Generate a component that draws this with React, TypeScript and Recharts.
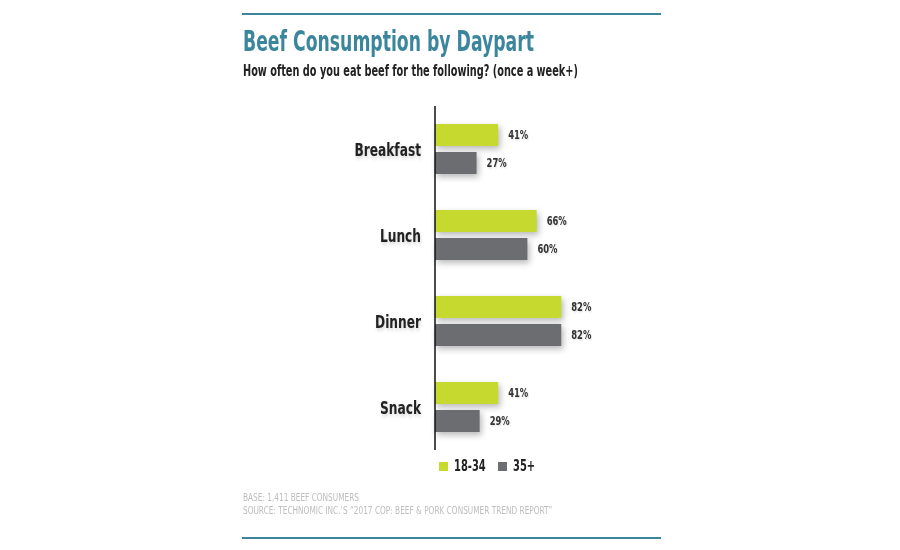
import React from 'react';
import { BarChart, Bar, XAxis, YAxis, LabelList } from 'recharts';

const dayparts = ['Breakfast', 'Lunch', 'Dinner', 'Snack'];
const young = [41, 66, 82, 41];
const older = [27, 60, 82, 29];
const seriesNames = ['18-34', '35+'];
const footnotes = [
  'BASE: 1,411 BEEF CONSUMERS',
  'SOURCE: TECHNOMIC INC.\u2019S \u201C2017 COP: BEEF & PORK CONSUMER TREND REPORT\u201D',
];

const data = dayparts.map((name, i) => ({ name, young: young[i], older: older[i] }));

const GREEN = '#c6d92e';
const GRAY = '#6c6d70';
const TEAL = '#3b869c';
const FONT = "'DejaVu Sans', sans-serif";

const ShadowBar = (props: any) => {
  const { x, y, width, height, fill } = props;
  return (
    <rect
      x={x}
      y={y}
      width={width}
      height={height}
      fill={fill}
      style={{ filter: 'drop-shadow(2px 3px 3px rgba(0,0,0,0.28))' }}
    />
  );
};

// Narrow, bold category names to the left of the axis
const CategoryTick = (props: any) => {
  const { x, y, payload } = props;
  return (
    <text
      transform={`translate(${x},${y}) scale(0.66,1)`}
      x={0}
      y={0}
      dy={6.5}
      textAnchor="end"
      fontFamily={FONT}
      fontWeight={700}
      fontSize={18.5}
      fill="#222"
      style={{ filter: 'drop-shadow(1px 2px 2px rgba(0,0,0,0.18))' }}
    >
      {payload.value}
    </text>
  );
};

const ValueLabel = (props: any) => {
  const { x, y, width, height, value } = props;
  const lx = x + width + 10;
  const ly = y + height / 2;
  return (
    <text
      transform={`translate(${lx},${ly}) scale(0.73,1)`}
      x={0}
      y={0}
      dy={4}
      textAnchor="start"
      fontFamily={FONT}
      fontWeight={700}
      fontSize={11.5}
      fill="#333"
      style={{ filter: 'drop-shadow(1px 1px 1px rgba(0,0,0,0.15))' }}
    >
      {`${value}%`}
    </text>
  );
};

const narrow = (s: number): React.CSSProperties => ({
  transform: `scaleX(${s})`,
  transformOrigin: 'left top',
  whiteSpace: 'nowrap',
});

export default function App() {
  return (
    <div style={{ position: 'absolute', left: 0, top: 0, width: 900, height: 550, background: '#fff', overflow: 'hidden' }}>
      <div style={{ position: 'absolute', left: 242, top: 13, width: 419, height: 2, background: TEAL }} />
      <div style={{ position: 'absolute', left: 243, top: 25, fontFamily: FONT, fontWeight: 700, fontSize: 28, color: TEAL, ...narrow(0.616) }}>
        Beef Consumption by Daypart
      </div>
      <div style={{ position: 'absolute', left: 243, top: 62, fontFamily: FONT, fontWeight: 700, fontSize: 15, color: '#222', ...narrow(0.65) }}>
        How often do you eat beef for the following? (once a week+)
      </div>

      <div style={{ position: 'absolute', left: 0, top: 0 }}>
        <BarChart
          width={900}
          height={550}
          data={data}
          layout="vertical"
          margin={{ top: 106, bottom: 100, left: 315, right: 311 }}
          barSize={22}
          barGap={6}
          barCategoryGap={0}
        >
          <XAxis type="number" domain={[0, 100]} hide />
          <YAxis
            type="category"
            dataKey="name"
            width={120}
            axisLine={{ stroke: '#111', strokeWidth: 1.5 }}
            tickLine={false}
            tickSize={0}
            tickMargin={14}
            tick={<CategoryTick />}
            interval={0}
          />
          <Bar dataKey="young" name={seriesNames[0]} fill={GREEN} shape={<ShadowBar />} isAnimationActive={false}>
            <LabelList dataKey="young" content={<ValueLabel />} />
          </Bar>
          <Bar dataKey="older" name={seriesNames[1]} fill={GRAY} shape={<ShadowBar />} isAnimationActive={false}>
            <LabelList dataKey="older" content={<ValueLabel />} />
          </Bar>
        </BarChart>
      </div>

      {/* series key */}
      <div style={{ position: 'absolute', left: 439, top: 462, width: 9, height: 9, background: GREEN }} />
      <div style={{ position: 'absolute', left: 454, top: 456, fontFamily: FONT, fontWeight: 700, fontSize: 16, color: '#222', ...narrow(0.62) }}>
        {seriesNames[0]}
      </div>
      <div style={{ position: 'absolute', left: 498, top: 462, width: 9, height: 9, background: GRAY }} />
      <div style={{ position: 'absolute', left: 513, top: 456, fontFamily: FONT, fontWeight: 700, fontSize: 16, color: '#222', ...narrow(0.62) }}>
        {seriesNames[1]}
      </div>

      <div style={{ position: 'absolute', left: 243, top: 491, fontFamily: FONT, fontSize: 11, color: '#bdbdbd', lineHeight: '13px', ...narrow(0.67) }}>
        {footnotes.map((t) => (
          <div key={t}>{t}</div>
        ))}
      </div>
      <div style={{ position: 'absolute', left: 242, top: 537, width: 419, height: 2, background: TEAL }} />
    </div>
  );
}
